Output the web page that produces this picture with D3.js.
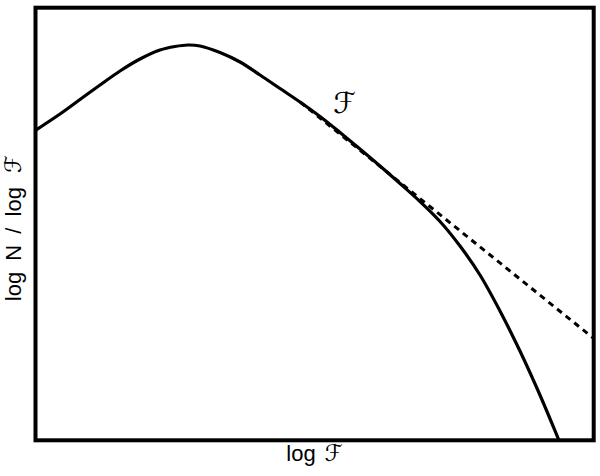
<!DOCTYPE html>
<html>
<head>
<meta charset="utf-8">
<script src="https://cdn.jsdelivr.net/npm/d3@7"></script>
<style>
  html, body { margin: 0; padding: 0; background: #fff; }
  svg { display: block; }
</style>
</head>
<body>
<svg id="chart" width="600" height="476"></svg>
<script>
// ---- data (arbitrary log units) ----
const logF = [0, 0.439, 0.797, 1.156, 1.514, 1.872, 2.230, 2.499, 2.732, 2.947, 3.305, 3.664, 4.022, 4.380, 4.738, 5.097, 5.455, 5.813, 6.172, 6.530, 6.888, 7.247, 7.605, 7.963, 8.321, 8.679, 9.037, 9.360, 9.450];
const logN = [7.166, 7.543, 7.878, 8.213, 8.537, 8.814, 9.022, 9.103, 9.138, 9.115, 8.964, 8.745, 8.444, 8.132, 7.820, 7.485, 7.115, 6.734, 6.341, 5.936, 5.520, 5.058, 4.491, 3.821, 2.989, 2.064, 1.047, 0.053, -0.23];
const powerLawF = [4.74, 10];
const powerLawN = [7.82, 2.355];
const curveLabel = "\u2131";
const xLabel = "log \u2131";
const yLabel = "log N / log \u2131";

// ---- drawing ----
const svg = d3.select("#chart");
const x = d3.scaleLinear().domain([0, 10]).range([35.5, 593.7]);
const y = d3.scaleLinear().domain([0, 10]).range([440.3, 7.7]);

const solid = logF.map((f, i) => [f, logN[i]]);
const dashed = powerLawF.map((f, i) => [f, powerLawN[i]]);

const clipId = "plotclip";
svg.append("clipPath").attr("id", clipId)
  .append("rect")
  .attr("x", x(0)).attr("y", y(10))
  .attr("width", x(10) - x(0)).attr("height", y(0) - y(10));

const g = svg.append("g").attr("clip-path", `url(#${clipId})`);

g.append("path")
  .datum(dashed)
  .attr("fill", "none")
  .attr("stroke", "#000")
  .attr("stroke-width", 3)
  .attr("stroke-dasharray", "6,5")
  .attr("d", d3.line().x(d => x(d[0])).y(d => y(d[1])));

g.append("path")
  .datum(solid)
  .attr("fill", "none")
  .attr("stroke", "#000")
  .attr("stroke-width", 3.2)
  .attr("stroke-linejoin", "round")
  .attr("d", d3.line().curve(d3.curveCatmullRom.alpha(0.5)).x(d => x(d[0])).y(d => y(d[1])));

// frame
svg.append("rect")
  .attr("x", x(0)).attr("y", y(10))
  .attr("width", x(10) - x(0)).attr("height", y(0) - y(10))
  .attr("fill", "none")
  .attr("stroke", "#000")
  .attr("stroke-width", 4);

const fontFam = "Liberation Sans, Arial, sans-serif";

// curve label
svg.append("text")
  .attr("x", x(5.54)).attr("y", 113)
  .attr("text-anchor", "middle")
  .attr("font-family", "DejaVu Sans")
  .attr("font-size", 29)
  .text(curveLabel);

// axis labels
const xl = svg.append("text")
  .attr("x", (x(0) + x(10)) / 2).attr("y", 461)
  .attr("text-anchor", "middle")
  .attr("font-family", fontFam)
  .attr("font-size", 22);
xl.append("tspan").text(xLabel.slice(0, -1));
xl.append("tspan").attr("font-family", "DejaVu Sans").attr("font-size", 23).attr("dx", 3).text(xLabel.slice(-1));

const yl = svg.append("text")
  .attr("transform", `translate(21,${(y(0) + y(10)) / 2 + 4}) rotate(-90)`)
  .attr("text-anchor", "middle")
  .attr("font-family", fontFam)
  .attr("font-size", 22)
  .attr("word-spacing", 5);
yl.append("tspan").text(yLabel.slice(0, -1));
yl.append("tspan").attr("font-family", "DejaVu Sans").attr("font-size", 23).attr("dx", 3).text(yLabel.slice(-1));
</script>
</body>
</html>
